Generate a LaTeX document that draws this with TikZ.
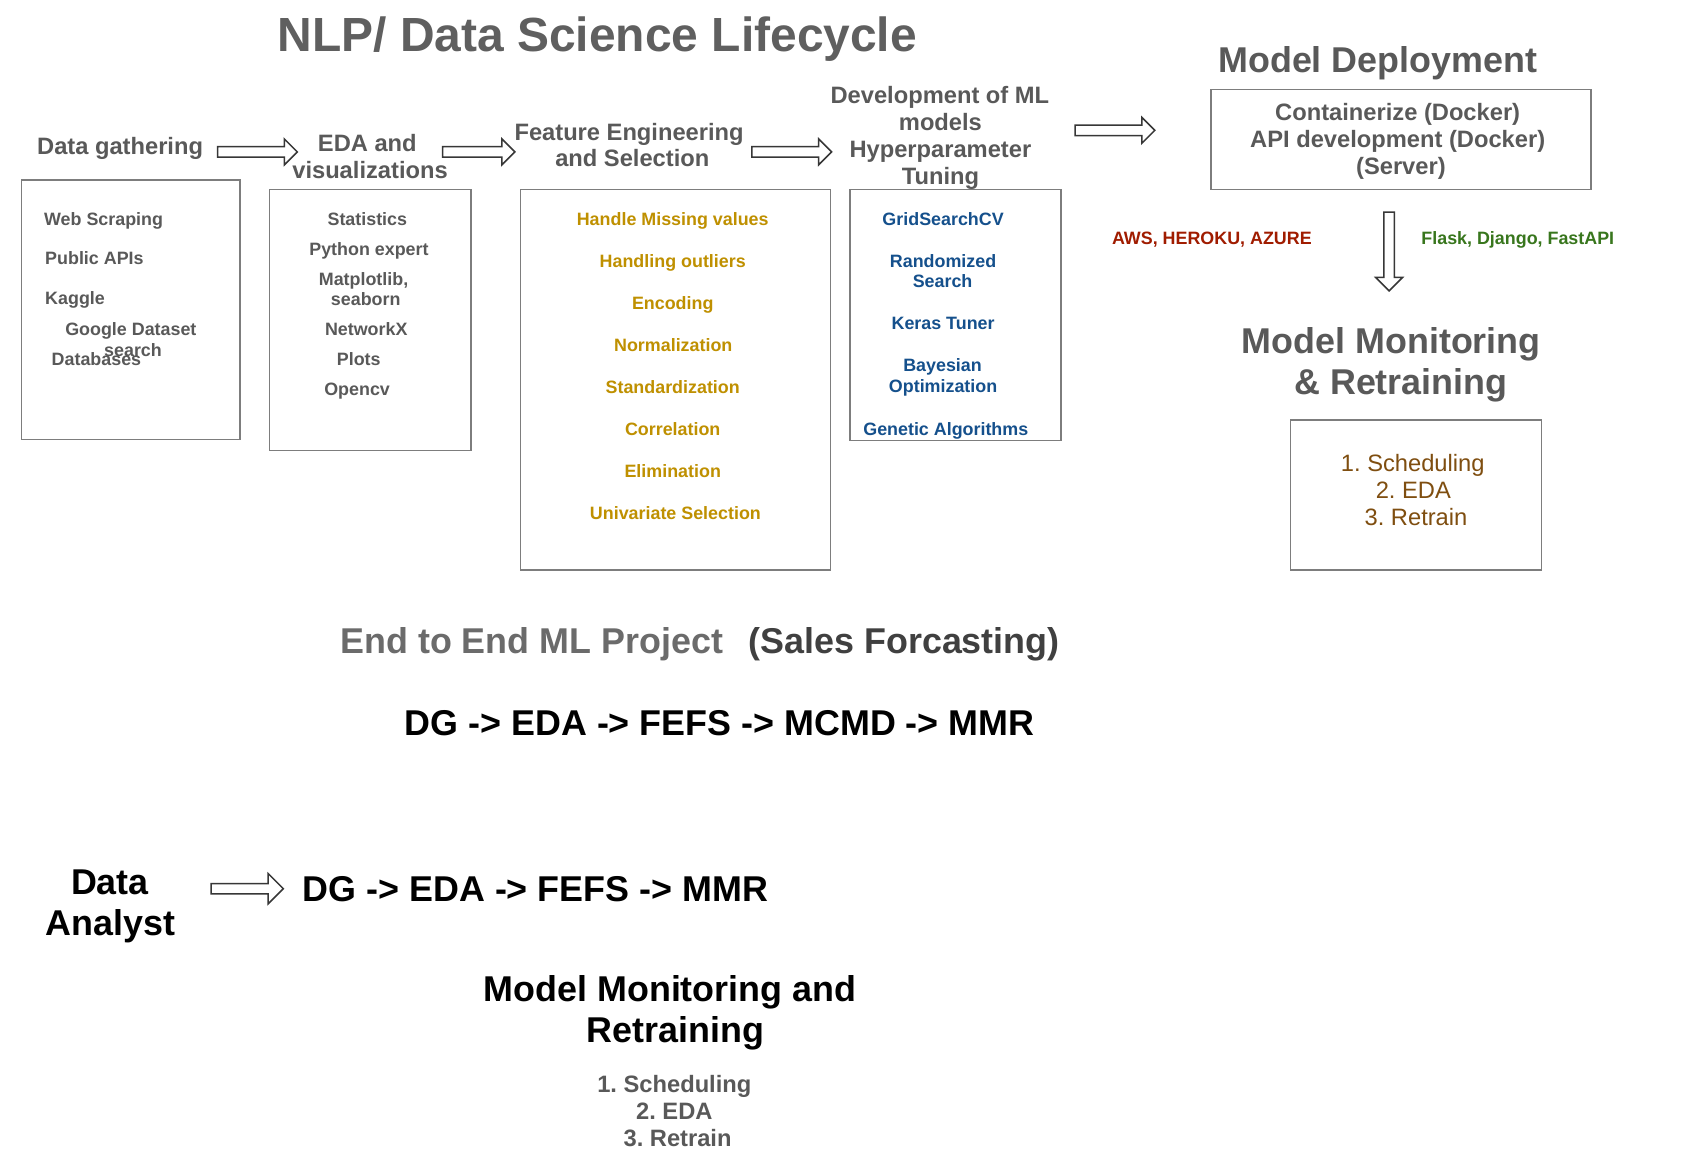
\documentclass[tikz,border=0pt]{standalone}
\usepackage{fontspec}
\setmainfont{Liberation Sans}
\frenchspacing
\definecolor{hgray}{RGB}{89,89,89}
\definecolor{tgray}{RGB}{95,95,95}
\definecolor{lgray}{RGB}{107,107,107}
\definecolor{dgray}{RGB}{64,64,64}
\definecolor{boxgray}{RGB}{125,125,125}
\definecolor{arrgray}{RGB}{55,55,55}
\definecolor{goldc}{RGB}{191,144,0}
\definecolor{bluec}{RGB}{21,80,140}
\definecolor{redc}{RGB}{160,28,0}
\definecolor{greenc}{RGB}{56,118,29}
\definecolor{brownc}{RGB}{127,78,16}
\newcommand{\harrow}[4]{% x1, x2, y, head half width
  \draw[fatarr] (#1,#3-4.8) -- (#2-#4,#3-4.8) -- (#2-#4,#3-#4) -- (#2,#3)
    -- (#2-#4,#3+#4) -- (#2-#4,#3+4.8) -- (#1,#3+4.8) -- cycle;}
\begin{document}
\begin{tikzpicture}[x=1pt,y=-1pt,
  t/.style={inner sep=0pt, outer sep=0pt, anchor=base, text=hgray},
  item/.style={t, font=\bfseries\fontsize{16.6}{19}\selectfont},
  golditem/.style={item, text=goldc},
  blueitem/.style={item, text=bluec},
  head/.style={t, font=\bfseries\fontsize{22}{25}\selectfont},
  brownitem/.style={t, text=brownc, font=\mdseries\fontsize{22}{25}\selectfont},
  big/.style={t, font=\bfseries\fontsize{33.3}{38}\selectfont},
  huge/.style={t, font=\bfseries\fontsize{44.5}{50}\selectfont},
  frame/.style={draw=boxgray, line width=1.4pt},
  fatarr/.style={draw=arrgray, fill=white, line width=1.4pt, line join=miter}]
\useasboundingbox (0,0) rectangle (1567,1087.1);
\fill[white] (0,0) rectangle (1567,1087.1);

% title
\node[huge, text=tgray] (title) at (554.5,48) {NLP/ Data Science Lifecycle};
\node[big] (mdep) at (1279,67) {Model Deployment};

% boxes
\draw[frame] (20,167) rectangle (223,408);
\draw[frame] (250,176) rectangle (437,418);
\draw[frame] (483,176) rectangle (771,529);
\draw[frame] (789,176) rectangle (985,409);
\draw[frame] (1124,83) rectangle (1477,176);
\draw[frame] (1198,390) rectangle (1431,529);

% headings
\node[head] (dg) at (111.5,143) {Data gathering};
\node[head] (eda1) at (341,141) {EDA and};
\node[head] (eda2) at (343.5,166) {visualizations};
\node[head] (fe1) at (584,130) {Feature Engineering};
\node[head] (fe2) at (587,155) {and Selection};
\node[head] (dev1) at (872.5,96) {Development of ML};
\node[head] (dev2) at (873,121) {models};
\node[head] (dev3) at (873,146) {Hyperparameter};
\node[head] (dev4) at (873,171) {Tuning};
\node[head] (cont1) at (1297.5,112) {Containerize (Docker)};
\node[head] (cont2) at (1297.5,137) {API development (Docker)};
\node[head] (cont3) at (1300.5,162) {(Server)};

% arrows
\harrow{202}{276}{141}{12}
\harrow{411}{478}{141}{12}
\harrow{698}{772}{141}{12}
\harrow{998}{1072}{121}{12}
\harrow{196}{263}{825}{14}
\draw[fatarr] (1284.7,197) -- (1284.7,257.5) -- (1277,257.5) -- (1289.5,270)
  -- (1302,257.5) -- (1294.3,257.5) -- (1294.3,197) -- cycle;

% box 1
\node[item, anchor=base west] (ws) at (41,209) {Web Scraping};
\node[item, anchor=base west] (api) at (42,246) {Public APIs};
\node[item, anchor=base west] (kag) at (42,283) {Kaggle};
\node[item] (gd1) at (121.5,311) {Google Dataset};
\node[item] (gd2) at (123.5,331) {search};
\node[item, anchor=base west] (db) at (48,339) {Databases};

% box 2
\node[item] (st) at (341,209) {Statistics};
\node[item] (py) at (342.5,237) {Python expert};
\node[item] (mp1) at (337.5,265) {Matplotlib,};
\node[item] (mp2) at (339.5,284) {seaborn};
\node[item] (nx) at (340,311) {NetworkX};
\node[item] (pl) at (333,339) {Plots};
\node[item] (cv) at (331.5,367) {Opencv};

% box 3
\node[golditem] (f1) at (624.5,209) {Handle Missing values};
\node[golditem] (f2) at (624.5,248) {Handling outliers};
\node[golditem] (f3) at (624.5,287) {Encoding};
\node[golditem] (f4) at (625,326) {Normalization};
\node[golditem] (f5) at (624.5,365) {Standardization};
\node[golditem] (f6) at (624.5,404) {Correlation};
\node[golditem] (f7) at (624.5,443) {Elimination};
\node[golditem] (f8) at (627,482) {Univariate Selection};

% box 4
\node[blueitem] (h1) at (875.5,209) {GridSearchCV};
\node[blueitem] (h2) at (875.5,248) {Randomized};
\node[blueitem] (h3) at (875,267) {Search};
\node[blueitem] (h4) at (875.5,306) {Keras Tuner};
\node[blueitem] (h5) at (875,345) {Bayesian};
\node[blueitem] (h6) at (875.5,364) {Optimization};
\node[blueitem] (h7) at (878,404) {Genetic Algorithms};

% deployment side labels
\node[item, text=redc] (aws) at (1125,227) {AWS, HEROKU, AZURE};
\node[item, text=greenc] (flask) at (1409,227) {Flask, Django, FastAPI};

% monitoring
\node[big] (mm1) at (1291.5,328) {Model Monitoring};
\node[big] (mm2) at (1300.5,366) {\& Retraining};
\node[brownitem] (r1) at (1311.5,438) {1. Scheduling};
\node[brownitem] (r2) at (1312,463) {2. EDA};
\node[brownitem] (r3) at (1314.5,488) {3. Retrain};

% end to end
\node[big, anchor=base west, text=lgray] (e2e) at (316,607) {End to End ML Project};
\node[big, anchor=base west, text=dgray] (sales) at (695,607) {(Sales Forcasting)};
\node[big, text=black] (flow1) at (668,683) {DG -> EDA -> FEFS -> MCMD -> MMR};

% data analyst
\node[big, text=black] (da1) at (102,830) {Data};
\node[big, text=black] (da2) at (102.5,868) {Analyst};
\node[big, anchor=base west, text=black] (flow2) at (281,837) {DG -> EDA -> FEFS -> MMR};

\node[big, text=black] (bm1) at (622,930) {Model Monitoring and};
\node[big, text=black] (bm2) at (627,968) {Retraining};
\node[head] (b1) at (626,1014) {1. Scheduling};
\node[head] (b2) at (626,1039) {2. EDA};
\node[head] (b3) at (629,1064) {3. Retrain};
\end{tikzpicture}
\end{document}
